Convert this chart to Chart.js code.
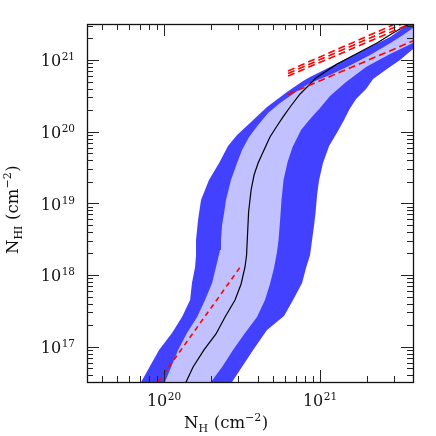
<!DOCTYPE html>
<html><head><meta charset="utf-8">
<script src="https://cdn.jsdelivr.net/npm/chart.js@4/dist/chart.umd.min.js"></script>
<style>html,body{margin:0;padding:0;background:#fff;}#wrap{width:436px;height:436px;position:relative;}</style>
</head><body><div id="wrap"><canvas id="c"></canvas></div>
<script>
// ---- data (log10 of column densities) ----
const outerLeftLogNH  = [19.801,19.853,19.968,20.051,20.115,20.167,20.179,20.199,20.205,20.205,20.218,20.237,20.288,20.353,20.410,20.468,20.551,20.660,20.788,20.891,20.936,21.064,21.192,21.321,21.449,21.532,21.558,21.590,21.673];
const outerLeftLogNHI = [16.326,16.507,16.954,17.191,17.414,17.651,17.889,18.112,18.279,18.488,18.768,19.047,19.326,19.563,19.800,19.954,20.121,20.344,20.553,20.707,20.763,20.902,21.042,21.181,21.321,21.446,21.502,21.558,21.656];
const outerRightLogNH  = [20.385,20.436,20.571,20.660,20.769,20.827,20.885,20.910,20.936,20.949,20.962,20.971,20.981,20.994,21.019,21.058,21.115,21.154,21.186,21.231,21.295,21.340,21.429,21.513,21.596,21.641,21.705];
const outerRightLogNHI = [16.326,16.507,16.954,17.233,17.428,17.651,17.889,18.098,18.279,18.488,18.698,18.865,19.116,19.326,19.563,19.800,20.009,20.163,20.302,20.456,20.595,20.735,20.874,21.000,21.153,21.209,21.279];
const innerLeftLogNH  = [19.962,20.006,20.090,20.147,20.212,20.263,20.308,20.333,20.359,20.365,20.372,20.385,20.397,20.429,20.468,20.500,20.545,20.603,20.667,20.744,20.808,20.872,20.936,21.064,21.192,21.321,21.449,21.532,21.596,21.641,21.692];
const innerLeftLogNHI = [16.326,16.507,16.954,17.191,17.414,17.651,17.889,18.112,18.349,18.488,18.698,18.865,19.047,19.326,19.563,19.744,19.926,20.093,20.260,20.400,20.498,20.595,20.679,20.791,20.923,21.070,21.233,21.349,21.446,21.502,21.572];
const innerRightLogNH  = [20.256,20.301,20.372,20.442,20.519,20.596,20.647,20.679,20.705,20.724,20.734,20.744,20.753,20.766,20.792,20.824,20.878,20.936,21.000,21.064,21.167,21.295,21.449,21.596,21.641,21.705];
const innerRightLogNHI = [16.326,16.507,16.716,16.954,17.191,17.414,17.651,17.875,18.098,18.321,18.488,18.768,19.047,19.326,19.577,19.786,20.023,20.177,20.330,20.498,20.693,20.902,21.084,21.237,21.293,21.349];
const medianLogNH  = [20.122,20.141,20.186,20.256,20.333,20.391,20.455,20.494,20.519,20.529,20.535,20.542,20.558,20.577,20.603,20.635,20.679,20.724,20.763,20.808,20.872,20.936,20.974,21.109,21.237,21.365,21.468,21.558,21.596];
const medianLogNHI = [16.326,16.507,16.716,16.954,17.177,17.414,17.651,17.875,18.112,18.279,18.558,18.879,19.186,19.395,19.563,19.716,19.926,20.079,20.205,20.344,20.526,20.665,20.749,20.944,21.091,21.237,21.377,21.488,21.537];
const fitLowLogNH   = [19.963, 20.498];
const fitLowLogNHI  = [16.511, 18.140];
const fitHighLogNH  = [20.795, 21.596];
const fitHighLogNHI = [20.519, 21.265];
const fitUp1LogNH  = [20.795, 21.481];
const fitUp1LogNHI = [20.847, 21.502];
const fitUp2LogNH  = [20.795, 21.526];
const fitUp2LogNHI = [20.812, 21.502];
const fitUp3LogNH  = [20.795, 21.577];
const fitUp3LogNHI = [20.777, 21.502];

// axes
const xRangeLog = [19.506, 21.596];
const yRangeLog = [16.507, 21.502];
const xTickValues = [1e20, 1e21];
const xTickExps = ['20', '21'];
const yTickValues = [1e17, 1e18, 1e19, 1e20, 1e21];
const yTickExps = ['17', '18', '19', '20', '21'];
const xTitle = [['N', 0], ['H', 1], [' (cm', 0], ['\u22122', 2], [')', 0]];
const yTitle = [['N', 0], ['HI', 1], [' (cm', 0], ['\u22122', 2], [')', 0]];

const pts = (xs, ys) => xs.map((v, i) => ({x: Math.pow(10, v), y: Math.pow(10, ys[i])}));
const darkPoly = pts(outerLeftLogNH, outerLeftLogNHI).concat(pts(outerRightLogNH, outerRightLogNHI).reverse());
const lightPoly = pts(innerLeftLogNH, innerLeftLogNHI).concat(pts(innerRightLogNH, innerRightLogNHI).reverse());

const FONT = '"DejaVu Serif", "Liberation Serif", serif';

function drawRich(ctx, parts, x, y) {
  let cx = x;
  for (const [t, kind] of parts) {
    const size = kind === 0 ? 16.5 : 11;
    const dy = kind === 1 ? 4 : (kind === 2 ? -7 : 0);
    ctx.font = size + 'px ' + FONT;
    ctx.fillText(t, cx, y + dy);
    cx += ctx.measureText(t).width + (kind ? 0.5 : 0);
  }
}
function drawPow(ctx, exp, x, y, align) {
  ctx.font = '16px ' + FONT;
  const w1 = ctx.measureText('10').width;
  ctx.font = '10.5px ' + FONT;
  const w2 = ctx.measureText(exp).width;
  const tot = w1 + w2 + 0.5;
  let x0 = align === 'center' ? x - tot / 2 : x - tot;
  ctx.font = '16px ' + FONT;
  ctx.fillText('10', x0, y);
  ctx.font = '10.5px ' + FONT;
  ctx.fillText(exp, x0 + w1 + 0.5, y - 6);
}

const framePlugin = {
  id: 'frame',
  afterDraw(chart) {
    const ctx = chart.ctx, a = chart.chartArea;
    const xs = chart.scales.x, ys = chart.scales.y;
    ctx.save();
    ctx.strokeStyle = '#111';
    ctx.lineWidth = 1.3;
    ctx.strokeRect(Math.round(a.left) + 0.5, Math.round(a.top) + 0.5, Math.round(a.right - a.left), Math.round(a.bottom - a.top));
    ctx.lineWidth = 1;
    ctx.strokeStyle = '#222';
    const ticks = (range) => {
      const out = [];
      for (let d = Math.floor(range[0]); d <= Math.ceil(range[1]); d++) {
        for (let m = 1; m <= 9; m++) {
          const lv = Math.log10(m * Math.pow(10, d));
          if (lv >= range[0] && lv <= range[1]) out.push({v: m * Math.pow(10, d), major: m === 1});
        }
      }
      return out;
    };
    ctx.beginPath();
    for (const t of ticks(xRangeLog)) {
      const p = Math.round(xs.getPixelForValue(t.v)) + 0.5;
      const L = t.major ? 12 : 6;
      ctx.moveTo(p, a.bottom); ctx.lineTo(p, a.bottom - L);
      ctx.moveTo(p, a.top); ctx.lineTo(p, a.top + L);
    }
    for (const t of ticks(yRangeLog)) {
      const p = Math.round(ys.getPixelForValue(t.v)) + 0.5;
      const L = t.major ? 12 : 6;
      ctx.moveTo(a.left, p); ctx.lineTo(a.left + L, p);
      ctx.moveTo(a.right, p); ctx.lineTo(a.right - L, p);
    }
    ctx.stroke();
    ctx.fillStyle = '#111';
    ctx.textBaseline = 'alphabetic';
    ctx.textAlign = 'left';
    xTickValues.forEach((v, i) => drawPow(ctx, xTickExps[i], xs.getPixelForValue(v), a.bottom + 24, 'center'));
    yTickValues.forEach((v, i) => drawPow(ctx, yTickExps[i], a.left - 12, ys.getPixelForValue(v) + 6.5, 'right'));
    drawRich(ctx, xTitle, 184, 428);
    ctx.translate(18, 254);
    ctx.rotate(-Math.PI / 2);
    drawRich(ctx, yTitle, 0, 0);
    ctx.restore();
  }
};

const lineDs = (data, color, width, dash, order) => ({
  data, borderColor: color, borderWidth: width, borderDash: dash, pointRadius: 0,
  fill: false, tension: 0, order, clip: 0
});

new Chart(document.getElementById('c'), {
  type: 'line',
  data: {
    datasets: [
      lineDs(pts(fitLowLogNH, fitLowLogNHI), '#ff0000', 1.6, [5, 4], 0),
      lineDs(pts(fitHighLogNH, fitHighLogNHI), '#ff0000', 1.6, [7, 4], 0),
      lineDs(pts(fitUp1LogNH, fitUp1LogNHI), '#ff0000', 1.6, [7, 4], 0),
      lineDs(pts(fitUp2LogNH, fitUp2LogNHI), '#ff0000', 1.6, [7, 4], 0),
      lineDs(pts(fitUp3LogNH, fitUp3LogNHI), '#ff0000', 1.6, [7, 4], 0),
      lineDs(pts(medianLogNH, medianLogNHI), '#000000', 1.2, [], 1),
      {data: lightPoly, borderWidth: 0, borderColor: 'rgba(0,0,0,0)', backgroundColor: '#c1c1ff', fill: 'shape', pointRadius: 0, tension: 0, order: 2, clip: 0},
      {data: darkPoly, borderWidth: 0, borderColor: 'rgba(0,0,0,0)', backgroundColor: '#4141ff', fill: 'shape', pointRadius: 0, tension: 0, order: 3, clip: 0}
    ]
  },
  options: {
    responsive: true, maintainAspectRatio: false, animation: false,
    layout: {padding: {left: 87, right: 23, top: 24, bottom: 54}},
    scales: {
      x: {type: 'logarithmic', display: false, min: Math.pow(10, xRangeLog[0]), max: Math.pow(10, xRangeLog[1])},
      y: {type: 'logarithmic', display: false, min: Math.pow(10, yRangeLog[0]), max: Math.pow(10, yRangeLog[1])}
    },
    plugins: {legend: {display: false}, tooltip: {enabled: false}}
  },
  plugins: [framePlugin]
});
</script></body></html>
